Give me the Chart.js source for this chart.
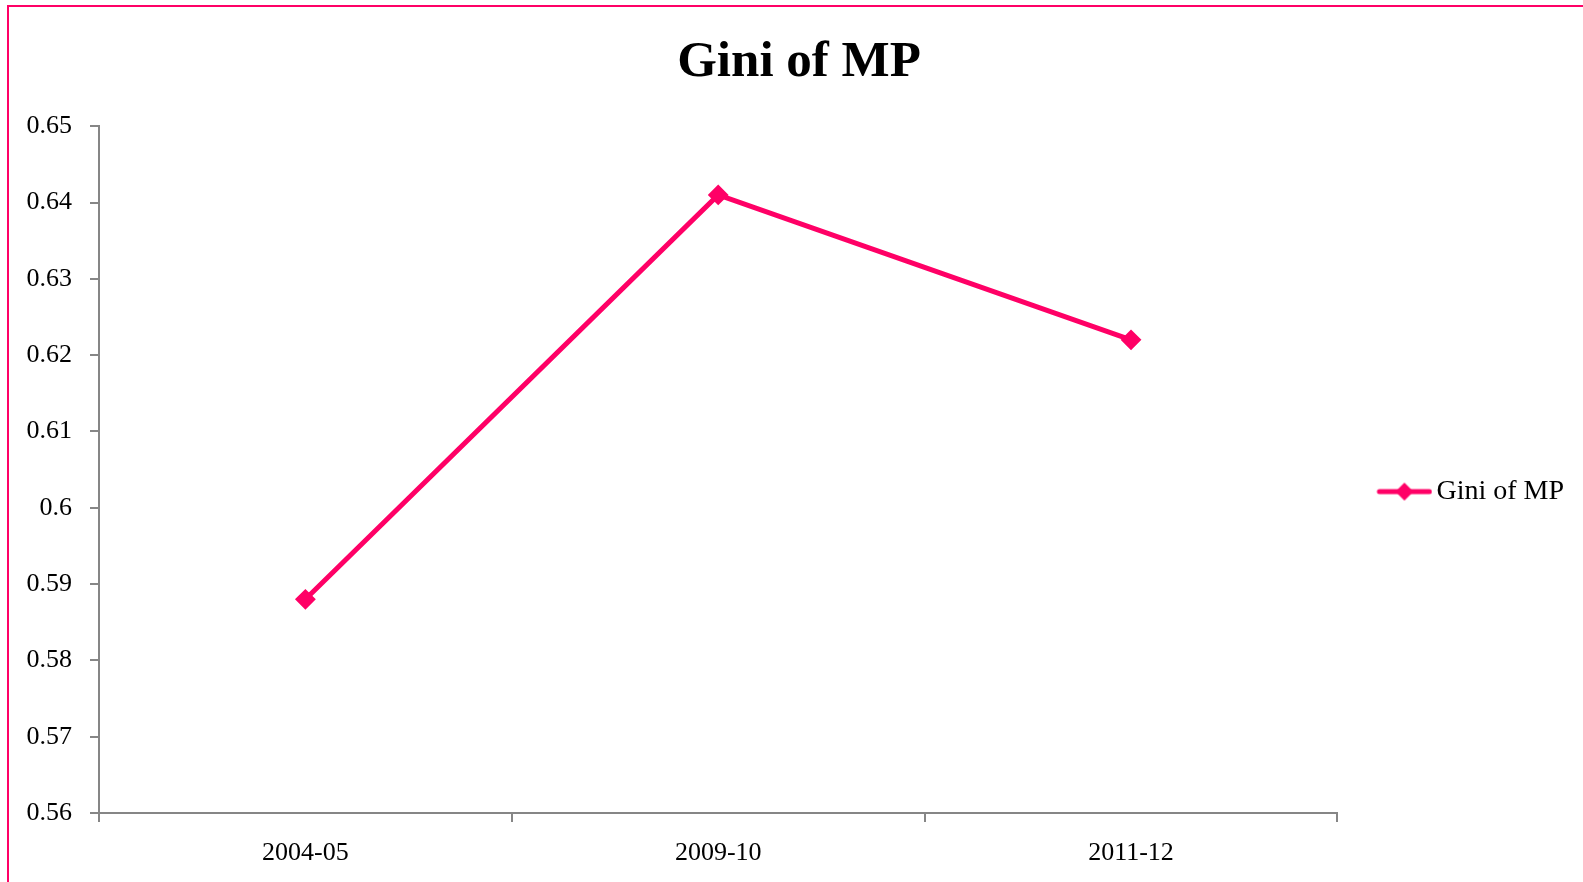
<!DOCTYPE html>
<html>
<head>
<meta charset="utf-8">
<script src="https://cdn.jsdelivr.net/npm/chart.js@4"></script>
<style>
  html, body { margin: 0; padding: 0; background: #ffffff; overflow: hidden; }
  #frame { position: absolute; left: 7px; top: 5px; width: 2000px; height: 2000px; border: 2px solid #FF0066; box-sizing: border-box; }
  #wrap { position: absolute; left: 0; top: 0; width: 1583px; height: 882px; }
</style>
</head>
<body>
<div id="frame"></div>
<div id="wrap"><canvas id="c" width="1583" height="882"></canvas></div>
<script>
const categories = ['2004-05', '2009-10', '2011-12'];
const giniValues = [0.588, 0.641, 0.622];
const seriesName = 'Gini of MP';
const chartTitle = 'Gini of MP';
const yMin = 0.56, yMax = 0.65, yStep = 0.01;

const PINK = '#FF0066';
const AXIS = '#868686';
const FONT = "'Liberation Serif', 'Times New Roman', serif";

// legend marker: line with diamond
const marker = document.createElement('canvas');
marker.width = 56; marker.height = 22;
(function () {
  const g = marker.getContext('2d');
  g.strokeStyle = PINK; g.lineWidth = 5; g.lineCap = 'round';
  g.beginPath(); g.moveTo(3, 11); g.lineTo(53, 11); g.stroke();
  g.fillStyle = PINK;
  g.beginPath(); g.moveTo(28 - 9, 11); g.lineTo(28, 2); g.lineTo(28 + 9, 11); g.lineTo(28, 20); g.closePath(); g.fill();
})();

new Chart(document.getElementById('c'), {
  type: 'line',
  data: {
    labels: categories,
    datasets: [{
      label: seriesName,
      data: giniValues,
      borderColor: PINK,
      backgroundColor: PINK,
      borderWidth: 5,
      pointStyle: 'rectRot',
      pointRadius: 9,
      pointBorderWidth: 2,
      pointBackgroundColor: PINK,
      pointBorderColor: PINK,
      tension: 0,
      fill: false
    }]
  },
  options: {
    responsive: false,
    animation: false,
    devicePixelRatio: 1,
    layout: { padding: { left: 24, right: 9, top: 0, bottom: 0 } },
    plugins: {
      title: {
        display: true,
        text: chartTitle,
        color: '#000000',
        font: { family: FONT, size: 51, weight: 'bold' },
        padding: { top: 32, bottom: 33 }
      },
      legend: {
        display: true,
        position: 'right',
        fullSize: false,
        title: { display: true, text: ' ', font: { family: FONT, size: 10 }, padding: { top: 16, bottom: 16 } },
        labels: {
          usePointStyle: true,
          pointStyle: marker,
          pointStyleWidth: 36,
          color: '#000000',
          font: { family: FONT, size: 28 },
          padding: 10
        }
      },
      tooltip: { enabled: false }
    },
    scales: {
      x: {
        type: 'category',
        offset: true,
        grid: { display: true, drawOnChartArea: false, drawTicks: true, tickLength: 9, color: AXIS, offset: true, lineWidth: 2 },
        border: { display: true, color: AXIS, width: 2 },
        ticks: { color: '#000000', font: { family: FONT, size: 26 }, padding: 16, maxRotation: 0 },
        afterFit: (s) => { s.height = 69; }
      },
      y: {
        type: 'linear',
        min: yMin,
        max: yMax,
        grid: { display: true, drawOnChartArea: false, drawTicks: true, tickLength: 9, color: AXIS, lineWidth: 2 },
        border: { display: true, color: AXIS, width: 2 },
        ticks: {
          stepSize: yStep,
          color: '#000000',
          font: { family: FONT, size: 26 },
          padding: 18,
          callback: (v) => String(parseFloat(v.toFixed(2)))
        },
        afterFit: (s) => { s.width = 75; }
      },
      gap: {
        type: 'linear',
        position: 'right',
        display: true,
        grid: { display: false },
        border: { display: false },
        ticks: { display: false },
        afterFit: (s) => { s.width = 39; }
      }
    }
  }
});
</script>
</body>
</html>
